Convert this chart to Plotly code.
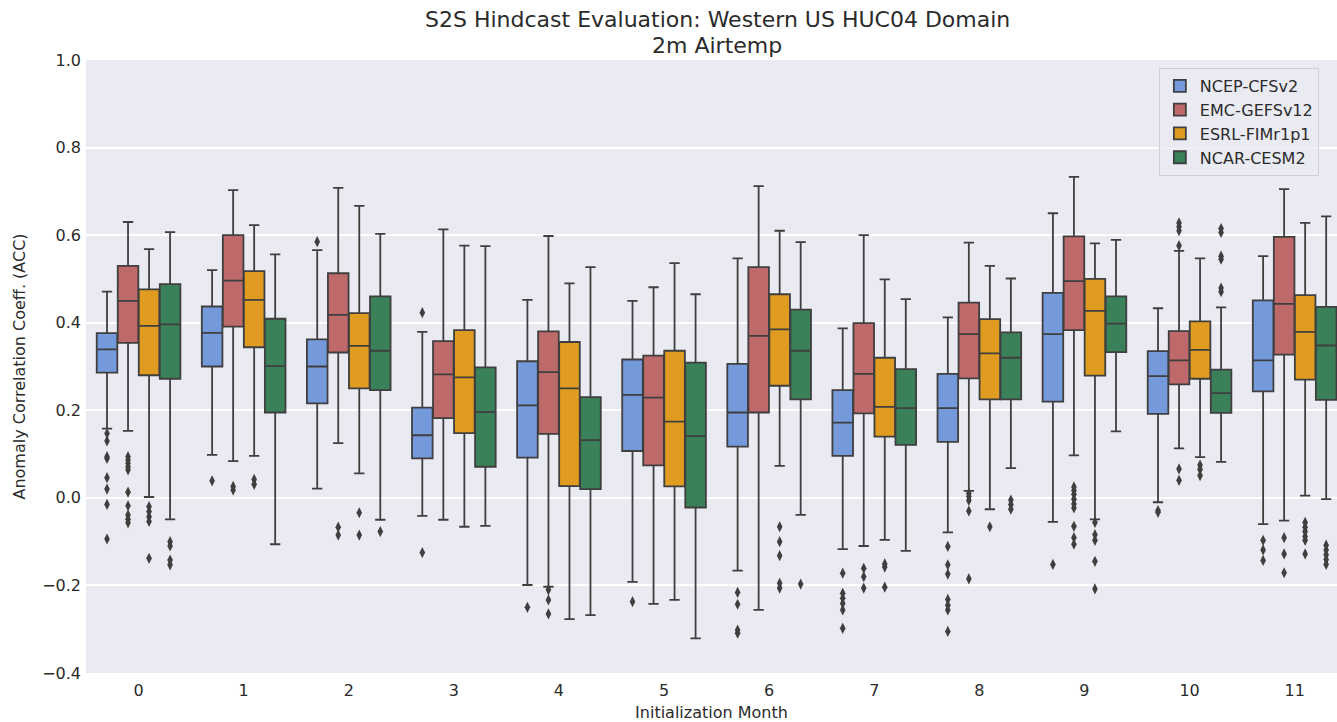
import plotly.graph_objects as go

months = list(range(12))
models = ["NCEP-CFSv2", "EMC-GEFSv12", "ESRL-FIMr1p1", "NCAR-CESM2"]
colors = ["#759ADC", "#BF6A6A", "#DF9C20", "#3A8058"]

# NCEP-CFSv2
cfs_hi = [0.471, 0.520, 0.566, 0.379, 0.452, 0.450, 0.547, 0.387, 0.412, 0.650, 0.433, 0.552]
cfs_q3 = [0.376, 0.437, 0.362, 0.206, 0.312, 0.316, 0.306, 0.246, 0.283, 0.468, 0.335, 0.451]
cfs_med = [0.339, 0.377, 0.300, 0.143, 0.211, 0.235, 0.195, 0.172, 0.205, 0.374, 0.278, 0.314]
cfs_q1 = [0.286, 0.300, 0.216, 0.090, 0.092, 0.107, 0.117, 0.096, 0.128, 0.220, 0.192, 0.243]
cfs_lo = [0.158, 0.098, 0.021, -0.041, -0.199, -0.192, -0.166, -0.117, -0.079, -0.055, -0.010, -0.060]
cfs_out = [
    [0.147, 0.130, 0.094, 0.090, 0.046, 0.020, -0.015, -0.094],
    [0.039], [0.585], [0.423, -0.125], [-0.250], [-0.237],
    [-0.216, -0.243, -0.302, -0.309],
    [-0.172, -0.218, -0.229, -0.241, -0.256, -0.298],
    [-0.111, -0.153, -0.174, -0.232, -0.245, -0.256, -0.305],
    [-0.152], [-0.029, -0.033], [-0.097, -0.119, -0.143],
]

# EMC-GEFSv12
gefs_hi = [0.630, 0.703, 0.708, 0.613, 0.598, 0.481, 0.712, 0.600, 0.583, 0.733, 0.564, 0.705]
gefs_q3 = [0.530, 0.600, 0.513, 0.358, 0.380, 0.325, 0.527, 0.399, 0.446, 0.597, 0.381, 0.596]
gefs_med = [0.450, 0.496, 0.418, 0.282, 0.287, 0.229, 0.370, 0.283, 0.374, 0.495, 0.314, 0.443]
gefs_q1 = [0.354, 0.391, 0.332, 0.182, 0.146, 0.074, 0.195, 0.193, 0.273, 0.383, 0.259, 0.327]
gefs_lo = [0.153, 0.084, 0.125, -0.050, -0.203, -0.242, -0.256, -0.110, 0.016, 0.097, 0.113, -0.052]
gefs_out = [
    [0.094, 0.087, 0.079, 0.071, 0.064, 0.013, -0.018, -0.039, -0.049, -0.057],
    [0.026, 0.018], [-0.067, -0.085], [], [-0.210, -0.233, -0.265], [], [],
    [-0.161, -0.180, -0.206],
    [0.010, 0.003, -0.006, -0.030, -0.185],
    [0.025, 0.017, 0.008, -0.003, -0.014, -0.023, -0.065, -0.091, -0.106],
    [0.628, 0.619, 0.610, 0.576, 0.066, 0.040],
    [-0.091, -0.128, -0.171],
]

# ESRL-FIMr1p1
fim_hi = [0.568, 0.623, 0.667, 0.576, 0.490, 0.536, 0.610, 0.499, 0.530, 0.581, 0.547, 0.628]
fim_q3 = [0.476, 0.518, 0.422, 0.383, 0.356, 0.336, 0.465, 0.320, 0.408, 0.500, 0.403, 0.463]
fim_med = [0.393, 0.452, 0.347, 0.275, 0.250, 0.174, 0.385, 0.208, 0.330, 0.427, 0.338, 0.379]
fim_q1 = [0.280, 0.344, 0.250, 0.148, 0.027, 0.026, 0.256, 0.140, 0.225, 0.279, 0.272, 0.270]
fim_lo = [0.002, 0.096, 0.056, -0.066, -0.277, -0.233, 0.073, -0.096, -0.026, -0.049, 0.093, 0.005]
fim_out = [
    [-0.020, -0.031, -0.043, -0.054, -0.138],
    [0.042, 0.031], [-0.034, -0.085], [], [], [],
    [-0.066, -0.100, -0.132, -0.195, -0.206],
    [-0.151, -0.158, -0.204],
    [-0.066],
    [-0.056, -0.084, -0.097, -0.145, -0.208],
    [0.075, 0.065, 0.051],
    [-0.056, -0.067, -0.077, -0.088, -0.097, -0.128],
]

# NCAR-CESM2
cesm_hi = [0.607, 0.556, 0.603, 0.575, 0.527, 0.465, 0.584, 0.454, 0.501, 0.589, 0.435, 0.643]
cesm_q3 = [0.488, 0.409, 0.460, 0.298, 0.230, 0.309, 0.430, 0.294, 0.378, 0.460, 0.293, 0.436]
cesm_med = [0.396, 0.301, 0.336, 0.196, 0.132, 0.141, 0.336, 0.205, 0.320, 0.398, 0.239, 0.348]
cesm_q1 = [0.272, 0.195, 0.246, 0.071, 0.020, -0.022, 0.225, 0.121, 0.225, 0.333, 0.194, 0.224]
cesm_lo = [-0.049, -0.106, -0.050, -0.064, -0.268, -0.321, -0.039, -0.121, 0.068, 0.152, 0.082, -0.003]
cesm_out = [
    [-0.100, -0.110, -0.142, -0.153],
    [], [-0.077], [], [], [],
    [-0.197], [],
    [-0.005, -0.015, -0.026],
    [],
    [0.615, 0.606, 0.552, 0.545, 0.479, 0.471],
    [-0.108, -0.119, -0.130, -0.141, -0.152],
]

stats = [
    (cfs_lo, cfs_q1, cfs_med, cfs_q3, cfs_hi, cfs_out),
    (gefs_lo, gefs_q1, gefs_med, gefs_q3, gefs_hi, gefs_out),
    (fim_lo, fim_q1, fim_med, fim_q3, fim_hi, fim_out),
    (cesm_lo, cesm_q1, cesm_med, cesm_q3, cesm_hi, cesm_out),
]

LINE = "#3f3f3f"
TXT = "#2b2b2b"
FONT = "DejaVu Sans"
group_w = 0.8
n = len(models)
bw = group_w / n

fig = go.Figure()
for i, (name, col, st) in enumerate(zip(models, colors, stats)):
    lo, q1, med, q3, hi, out = st
    off = (i - (n - 1) / 2) * bw
    xs = [m + off for m in months]
    fig.add_trace(go.Box(
        name=name, x=xs, lowerfence=lo, q1=q1, median=med, q3=q3, upperfence=hi,
        width=bw * 0.98, whiskerwidth=0.5, boxpoints=False,
        fillcolor=col, line=dict(color=LINE, width=1.8),
        hoverinfo="skip", showlegend=True,
    ))
    ox, oy = [], []
    for m, vals in zip(months, out):
        for v in vals:
            ox.append(m + off)
            oy.append(v)
    fig.add_trace(go.Scatter(
        x=ox, y=oy, mode="markers", showlegend=False, hoverinfo="skip",
        marker=dict(symbol="diamond-tall", size=8, color=LINE, line=dict(width=0)),
    ))

fig.update_layout(
    width=1337, height=722,
    margin=dict(l=86, r=0, t=60, b=49),
    paper_bgcolor="white", plot_bgcolor="#EAEAF2",
    font=dict(family=FONT, size=16, color=TXT),
    boxmode="overlay",
    showlegend=True,
    legend=dict(
        x=0.8576, y=0.987, xanchor="left", yanchor="top",
        bgcolor="rgba(234,234,242,0.8)", bordercolor="#cfcfd6", borderwidth=1,
        font=dict(family=FONT, size=16, color=TXT), tracegroupgap=0,
    ),
    annotations=[
        dict(text="S2S Hindcast Evaluation: Western US HUC04 Domain", xref="paper", yref="paper",
             x=0.5044, y=1.066, xanchor="center", yanchor="middle", showarrow=False,
             font=dict(family=FONT, size=22, color=TXT)),
        dict(text="2m Airtemp", xref="paper", yref="paper",
             x=0.5044, y=1.024, xanchor="center", yanchor="middle", showarrow=False,
             font=dict(family=FONT, size=22, color=TXT)),
    ],
)
fig.update_xaxes(
    range=[-0.5, 11.403], tickmode="array", tickvals=months, ticktext=[str(m) for m in months],
    showgrid=False, zeroline=False, showline=False, ticks="",
    tickfont=dict(family=FONT, size=16, color=TXT), ticklabelstandoff=6,
    title=dict(text="Initialization Month", font=dict(family=FONT, size=16, color=TXT), standoff=12),
)
fig.update_yaxes(
    range=[-0.4, 1.0], dtick=0.2, tick0=0, tickformat=".1f",
    showgrid=True, gridcolor="white", gridwidth=1.5, zeroline=False, showline=False, ticks="",
    tickfont=dict(family=FONT, size=16, color=TXT), ticklabelstandoff=4,
    title=dict(text="Anomaly Correlation Coeff. (ACC)", font=dict(family=FONT, size=16, color=TXT), standoff=12),
)
fig.write_html("out.html")
